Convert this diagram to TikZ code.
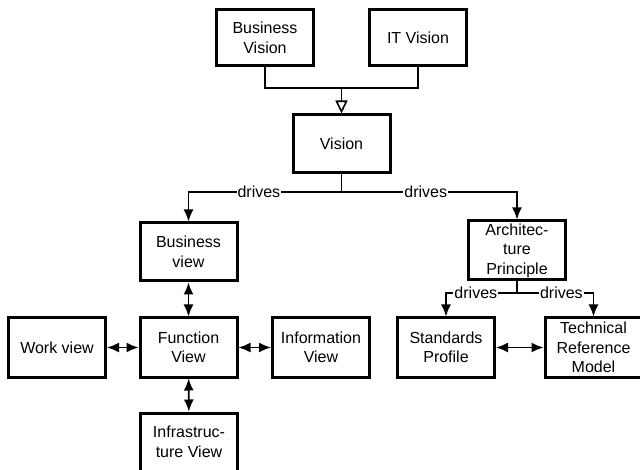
\documentclass[tikz,border=0pt]{standalone}
\usepackage{fontspec}
\setmainfont{Liberation Sans}
\usetikzlibrary{arrows.meta}
\begin{document}
\begin{tikzpicture}[x=1pt,y=-1pt,
  font=\fontsize{16}{19.5}\selectfont,
  box/.style={draw, line width=3pt, fill=white, align=center, inner sep=0pt,
              minimum width=97pt, minimum height=58pt},
  link/.style={line width=1.6pt},
  drv/.style={link, -{Latex[length=12pt,width=10pt]}},
  both/.style={link, {Latex[length=12pt,width=10pt]}-{Latex[length=12pt,width=10pt]}},
  lbl/.style={fill=white, inner sep=1pt}]
\useasboundingbox (0,0) rectangle (640,470);
\clip (0,0) rectangle (640,470);

% top level
\node[box, minimum height=56pt] (bvis) at (265,38) {Business\\Vision};
\node[box, minimum height=56pt] (itvis) at (418,38) {IT Vision};
\node[box] (vis) at (341.5,144) {Vision};

% views
\node[box] (bview) at (188.5,252) {Business\\view};
\node[box, minimum height=59pt] (fview) at (188.5,347.5) {Function\\View};
\node[box, minimum height=59pt] (wview) at (57,347.5) {Work view};
\node[box, minimum height=59pt] (iview) at (321,347.5) {Information\\View};
\node[box] (infra) at (189,442) {Infrastruc-\\ture View};

% principles
\node[box, minimum height=59pt] (arch) at (517,250.5) {Architec-\\ture\\Principle};
\node[box, minimum height=59pt] (std) at (446,347.5) {Standards\\Profile};
\node[box, minimum height=59pt] (trm) at (593.5,347.5) {Technical\\Reference\\Model};

% visions merge into Vision
\coordinate (m) at (341.5,88);
\draw[link] (bvis.south) |- (m);
\draw[link] (itvis.south) |- (m);
\draw[link, -{Triangle[open,length=13pt,width=12pt]}] (m) -- (vis.north);

% Vision drives
\coordinate (j1) at (341.5,192);
\draw[link] (vis.south) -- (j1);
\draw[drv] (j1) -| node[pos=0.27, lbl] {drives} (bview.north);
\draw[drv] (j1) -| node[pos=0.24, lbl] {drives} (arch.north);

% Architecture Principle drives
\coordinate (j2) at (517,293);
\draw[link] (arch.south) -- (j2);
\draw[drv] (j2) -| node[pos=0.29, lbl] {drives} (std.north);
\draw[drv] (j2) -| node[pos=0.29, lbl] {drives} (trm.north);

% links between views
\draw[both] (bview) -- (fview);
\draw[both] (wview) -- (fview);
\draw[both] (fview) -- (iview);
\draw[both] (fview) -- (infra);
\draw[both] (std) -- (trm);
\end{tikzpicture}
\end{document}
